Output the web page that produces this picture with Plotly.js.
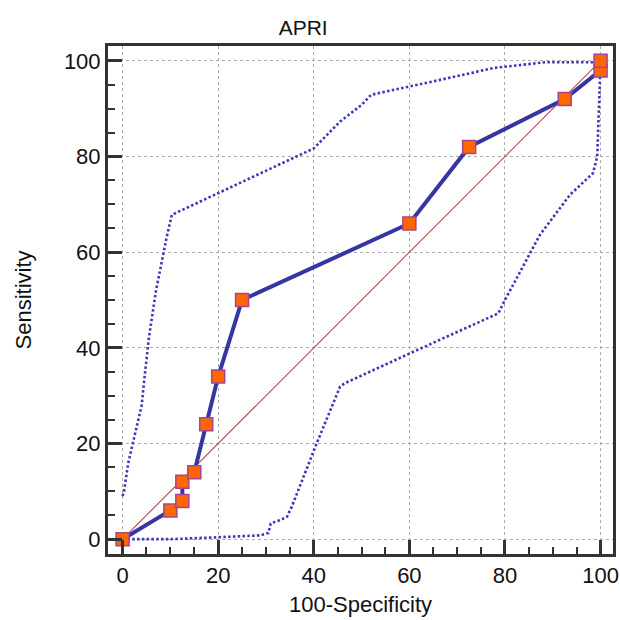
<!DOCTYPE html>
<html>
<head>
<meta charset="utf-8">
<script src="https://cdn.plot.ly/plotly-3.0.1.min.js"></script>
<style>html,body{margin:0;padding:0;background:#fff;}#chart{width:620px;height:620px;}</style>
</head>
<body>
<div id="chart"></div>
<script>
// ROC curve (empirical points)
const rocX = [0, 10, 12.5, 12.5, 15, 17.5, 20, 25, 60, 72.5, 92.5, 100, 100];
const rocY = [0, 6, 8, 12, 14, 24, 34, 50, 66, 82, 92, 98, 100];

// Upper confidence bound
const upperX = [0, 0.3, 1.2, 2.3, 3, 4, 4.5, 5.5, 7, 8.5, 9.2, 10.3, 20, 30, 36.4, 40, 45.5, 50, 52, 60, 70, 77.6, 88.4, 100];
const upperY = [9, 10, 16, 20.5, 24, 28, 33, 42, 52, 60, 63, 67.8, 72.3, 77, 80, 81.7, 87.3, 90.8, 92.9, 94.6, 96.8, 98.5, 99.7, 99.7];

// Lower confidence bound
const lowerX = [0, 10, 20, 28.8, 30.5, 31, 33, 34.4, 35.4, 37.8, 40.6, 45.5, 46.5, 60, 78.6, 80, 85.6, 87.3, 93.6, 98.4, 99.3, 99.7, 100, 100];
const lowerY = [0, 0, 0.4, 0.8, 1.3, 3.3, 4, 4.7, 6.8, 13, 20, 31.9, 32.6, 38.8, 47.2, 50, 60.5, 63.6, 72, 76.5, 80, 90, 96.7, 100];

// Reference diagonal
const diagX = [0, 100];
const diagY = [0, 100];

const tickVals = [0, 20, 40, 60, 80, 100];
const tickText = ['0', '20', '40', '60', '80', '100'];

const FONT = 'Liberation Sans, Arial, Helvetica, sans-serif';

const traces = [
  {x: diagX, y: diagY, mode: 'lines', line: {color: '#c04848', width: 1.1}, hoverinfo: 'skip'},
  {x: upperX, y: upperY, mode: 'lines', line: {color: '#3a3ab8', width: 2.6, dash: '2.5px,2.3px'}},
  {x: lowerX, y: lowerY, mode: 'lines', line: {color: '#3a3ab8', width: 2.6, dash: '2.5px,2.3px'}},
  {x: rocX, y: rocY, mode: 'lines+markers',
   line: {color: '#3636a2', width: 4},
   marker: {symbol: 'square', size: 13, color: '#ff6600', line: {color: '#a8448e', width: 1.5}}}
];

const axisCommon = {
  tickmode: 'array', tickvals: tickVals, ticktext: tickText,
  ticks: 'inside', ticklen: 14, tickwidth: 3, tickcolor: '#333',
  minor: {dtick: 5, ticks: 'inside', ticklen: 7, tickwidth: 2, tickcolor: '#333', showgrid: false},
  showline: true, linewidth: 3, linecolor: '#333', mirror: true,
  showgrid: true, gridcolor: '#aaaaaa', gridwidth: 1, griddash: 'dot',
  zeroline: false,
  tickfont: {family: FONT, size: 22, color: '#111'},
  fixedrange: true
};

const layout = {
  width: 620, height: 620,
  margin: {l: 108, r: 7, t: 46, b: 66},
  paper_bgcolor: '#fff', plot_bgcolor: '#fff',
  showlegend: false,
  title: {text: 'APRI', font: {family: FONT, size: 21, color: '#111'},
          x: 0.489, xref: 'container', xanchor: 'center', y: 0.968, yref: 'container', yanchor: 'top'},
  xaxis: Object.assign({}, axisCommon, {
    range: [-3.05, 102.6],
    title: {text: '100-Specificity', font: {family: FONT, size: 22, color: '#111'}, standoff: 10}
  }),
  yaxis: Object.assign({}, axisCommon, {
    range: [-3.1, 103.1],
    title: {text: 'Sensitivity', font: {family: FONT, size: 22, color: '#111'}, standoff: 27}
  })
};

Plotly.newPlot('chart', traces, layout, {displayModeBar: false, staticPlot: true});
</script>
</body>
</html>
